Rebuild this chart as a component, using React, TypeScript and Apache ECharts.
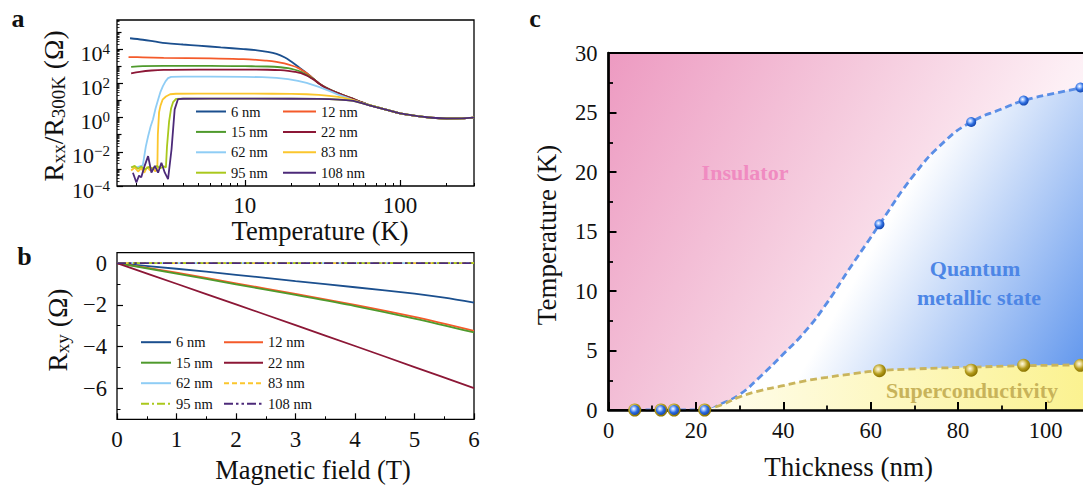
import React, { useEffect, useRef } from "react";
import * as echarts from "echarts";

const FONT = "Liberation Serif, serif";
const INK = "#111111";

// ---------------- panel a : Rxx/R300K vs temperature ----------------
const sampleNames = ["6 nm", "12 nm", "15 nm", "22 nm", "62 nm", "83 nm", "95 nm", "108 nm"];
const sampleColors = ["#1b4f8e", "#f45a2a", "#4f9a2c", "#8c1736", "#8fcdf5", "#fbc62d", "#aac81c", "#4c2a79"];

const tempRange = [1.5, 300];
const rxxRange = [1e-4, 5e5];
const tempMajorTicks = [10, 100];
const tempMinorTicks = [2, 3, 4, 5, 6, 7, 8, 9, 20, 30, 40, 50, 60, 70, 80, 90, 200, 300];
const rxxMajorExp = [-4, -2, 0, 2, 4];
const rxxMidExp = [-3, -1, 1, 3, 5];
const rxxSubMultipliers = [2, 3, 4, 5, 6, 7, 8, 9];
const rxxDecades = [-4, -3, -2, -1, 0, 1, 2, 3, 4, 5];

const rxx6nm = [[1.82, 4.3e4], [2.2, 3.5e4], [2.6, 2.8e4], [3.1, 2.2e4], [4, 1.85e4], [5, 1.6e4], [7, 1.25e4], [9.8, 1.0e4], [12, 8.5e3], [14, 6.9e3], [16, 5.2e3], [18, 3.3e3], [20, 1.8e3], [22, 950], [24, 520], [26, 300], [28, 168], [30, 100], [33, 58], [37, 35], [42, 22], [48, 14], [55, 8.6], [62, 5.7], [70, 4.2], [80, 3.0], [100, 1.75], [130, 1.2], [160, 0.97], [200, 0.88], [250, 0.9], [300, 1.0]];
const rxx12nm = [[1.78, 3.4e3], [2.2, 3.3e3], [3, 3.1e3], [6, 2.85e3], [9.8, 2.6e3], [13.8, 2.1e3], [16, 1.8e3], [18, 1.45e3], [20, 1.1e3], [22, 800], [24, 500], [26, 295], [28, 166], [30, 100], [33, 58], [37, 35], [42, 22], [48, 14], [55, 8.6], [62, 5.7], [70, 4.2], [80, 3.0], [100, 1.75], [130, 1.2], [160, 0.97], [200, 0.88], [250, 0.9], [300, 1.0]];
const rxx15nm = [[1.85, 900], [2.2, 1.0e3], [3, 1.05e3], [6, 1.05e3], [10, 1.0e3], [14, 960], [17, 870], [19, 760], [21, 620], [23, 470], [25, 310], [27, 205], [28, 165], [30, 99], [33, 58], [37, 35], [42, 22], [48, 14], [55, 8.6], [62, 5.7], [70, 4.2], [80, 3.0], [100, 1.75], [130, 1.2], [160, 0.97], [200, 0.88], [250, 0.9], [300, 1.0]];
const rxx22nm = [[1.85, 380], [2.1, 470], [2.5, 560], [3, 610], [5, 630], [10, 630], [14, 620], [17, 590], [19, 540], [21, 470], [23, 390], [25, 285], [27, 195], [28, 160], [30, 98], [33, 57], [37, 35], [42, 22], [48, 14], [55, 8.6], [62, 5.7], [70, 4.2], [80, 3.0], [100, 1.75], [130, 1.2], [160, 0.97], [200, 0.88], [250, 0.9], [300, 1.0]];
const rxx62nm = [[1.85, 1.3e-3], [2.0, 1.2e-3], [2.1, 1.4e-3], [2.2, 1.6e-3], [2.3, 0.02], [2.38, 0.08], [2.47, 0.3], [2.56, 0.8], [2.66, 3.5], [2.76, 11], [2.86, 32], [2.96, 66], [3.08, 130], [3.2, 200], [3.35, 240], [4, 248], [6, 248], [10, 240], [13, 228], [16, 208], [19, 178], [22, 140], [25, 105], [30, 62], [35, 36], [40, 22], [45, 15], [50, 10.5], [56, 7.5], [62, 5.7], [70, 4.2], [80, 3.0], [100, 1.75], [130, 1.2], [160, 0.97], [200, 0.88], [250, 0.9], [300, 1.0]];
const rxx83nm = [[1.85, 8e-4], [1.95, 1.2e-3], [2.05, 7e-4], [2.15, 1.1e-3], [2.25, 6e-4], [2.35, 1.3e-3], [2.45, 8e-4], [2.55, 1.2e-3], [2.65, 7e-4], [2.73, 1.0e-3], [2.75, 0.1], [2.8, 2], [2.86, 5], [2.95, 11], [3.1, 17], [3.3, 23], [3.6, 24.5], [5, 24.8], [10, 24.8], [15, 24.5], [20, 24], [25, 23], [30, 21], [35, 18.5], [40, 16], [45, 13], [50, 10.5], [56, 7.5], [62, 5.6], [70, 4.15], [80, 3.0], [100, 1.75], [130, 1.2], [160, 0.97], [200, 0.88], [250, 0.9], [300, 1.0]];
const rxx95nm = [[1.85, 1.2e-3], [1.95, 1.5e-3], [2.05, 1.0e-3], [2.15, 1.4e-3], [2.25, 9e-4], [2.4, 1.3e-3], [2.55, 1.0e-3], [2.7, 1.5e-3], [2.85, 1.1e-3], [3.0, 1.4e-3], [3.1, 1.2e-3], [3.15, 0.02], [3.25, 0.6], [3.35, 3.5], [3.45, 8], [3.6, 12.3], [4, 12.6], [6, 12.7], [10, 12.7], [20, 12.6], [30, 12.4], [35, 12], [40, 11.3], [45, 10.4], [50, 9.4], [56, 7.3], [62, 5.6], [70, 4.15], [80, 3.0], [100, 1.75], [130, 1.2], [160, 0.97], [200, 0.88], [250, 0.9], [300, 1.0]];
const rxx108nm = [[1.9, 6e-4], [2.0, 1.6e-4], [2.08, 4e-4], [2.15, 3.2e-4], [2.26, 1.5e-3], [2.38, 5.6e-3], [2.5, 6e-4], [2.63, 1.5e-3], [2.76, 6e-4], [2.9, 2.3e-3], [3.05, 6e-4], [3.2, 2.5e-4], [3.37, 0.014], [3.53, 3], [3.71, 12], [4, 12.5], [6, 12.6], [10, 12.6], [20, 12.5], [30, 12.3], [35, 11.9], [40, 11.2], [45, 10.3], [50, 9.3], [56, 7.2], [62, 5.5], [70, 4.1], [80, 3.0], [100, 1.75], [130, 1.2], [160, 0.97], [200, 0.88], [250, 0.9], [300, 1.0]];
const rxxCurves = [rxx6nm, rxx12nm, rxx15nm, rxx22nm, rxx62nm, rxx83nm, rxx95nm, rxx108nm];

// ---------------- panel b : Rxy vs magnetic field ----------------
const fieldRange = [0, 6];
const rxyRange = [-7.5, 0.5];
const rxyLabelTicks = [-6, -4, -2, 0];
const rxyMinorTicks = [-7, -5, -3, -1];
const rxy6nm = [[0, 0], [1, -0.27], [2, -0.56], [3, -0.86], [4, -1.16], [5, -1.47], [5.5, -1.66], [6, -1.9]];
const rxy12nm = [[0, 0], [1, -0.46], [2, -0.97], [3, -1.48], [4, -2.0], [5, -2.58], [6, -3.25]];
const rxy15nm = [[0, 0], [1, -0.5], [2, -1.02], [3, -1.53], [4, -2.06], [5, -2.66], [6, -3.33]];
const rxy22nm = [[0, 0], [1, -0.99], [2, -1.98], [3, -2.98], [4, -3.98], [5, -4.99], [6, -6.0]];
const rxy62nm = [[0, 0], [6, 0]];
const rxy83nm = [[0, 0], [6, 0]];
const rxy95nm = [[0, 0], [6, 0]];
const rxy108nm = [[0, 0], [6, 0]];
const rxyCurves = [rxy6nm, rxy12nm, rxy15nm, rxy22nm, rxy62nm, rxy83nm, rxy95nm, rxy108nm];
const rxyDash: any[] = ["solid", "solid", "solid", "solid", "solid", [5, 3], [8, 3, 2, 3], [9, 3, 2.5, 3, 2.5, 3]];

// ---------------- panel c : phase diagram ----------------
const thicknessRange = [0, 110];
const tempCRange = [0, 30];
const thicknessNm = [6, 12, 15, 22, 62, 83, 95, 108];
const tMetallic = [0, 0, 0, 0, 15.6, 24.2, 26.0, 27.1];
const tSuper = [0, 0, 0, 0, 3.3, 3.35, 3.75, 3.75];
const metallicFit = [[6, 0], [12, 0], [15, 0], [22, 0], [26, 0.55], [30, 1.3], [35, 2.9], [40, 4.7], [45, 6.6], [50, 9.0], [55, 11.8], [60, 14.5], [62, 15.6], [70, 19.8], [77, 22.6], [83, 24.2], [90, 25.3], [95, 26.0], [102, 26.6], [110, 27.2]];
const superFit = [[22, 0], [26, 0.45], [30, 1.1], [35, 1.65], [40, 2.05], [45, 2.45], [50, 2.75], [55, 3.0], [62, 3.3], [70, 3.45], [83, 3.6], [95, 3.72], [110, 3.8]];

const lg = (v: number) => Math.log10(v);
const fmtMinus = (v: number) => (v < 0 ? "\u2212" + Math.abs(v) : String(v));
const richT = (size: number) => ({ t: { fontFamily: FONT, fontSize: size, color: INK } });

function buildOption() {
  const tickLine = { color: "#000", width: 1.2 };
  const rxxSubTicks: number[] = [];
  rxxDecades.forEach((n) =>
    rxxSubMultipliers.forEach((k) => {
      const v = lg(k) + n;
      if (v <= lg(rxxRange[1])) rxxSubTicks.push(v);
    })
  );

  const hiddenAxis = {
    axisLine: { show: false },
    axisTick: { show: false },
    axisLabel: { show: false },
    splitLine: { show: false },
  };

  const xAxis: any[] = [
    { type: "log", gridIndex: 0, min: tempRange[0], max: tempRange[1], ...hiddenAxis },
    {
      type: "value", gridIndex: 0, position: "bottom", min: lg(tempRange[0]), max: lg(tempRange[1]),
      axisLine: { show: false, onZero: false },
      axisTick: { show: true, inside: true, length: 6, customValues: tempMajorTicks.map(lg), lineStyle: tickLine },
      axisLabel: {
        customValues: tempMajorTicks.map(lg), margin: 8,
        formatter: (v: number) => `{t|${Math.round(Math.pow(10, v))}}`, rich: richT(23),
      },
      splitLine: { show: false },
    },
    {
      type: "value", gridIndex: 0, position: "bottom", min: lg(tempRange[0]), max: lg(tempRange[1]),
      axisLine: { show: false, onZero: false },
      axisTick: { show: true, inside: true, length: 3, customValues: tempMinorTicks.map(lg), lineStyle: { color: "#000", width: 1 } },
      axisLabel: { show: false }, splitLine: { show: false },
    },
    {
      type: "value", gridIndex: 1, position: "bottom", min: fieldRange[0], max: fieldRange[1], interval: 1,
      axisLine: { show: false, onZero: false },
      axisTick: { show: true, inside: true, length: 6, lineStyle: tickLine },
      minorTick: { show: true, splitNumber: 2, length: 3, lineStyle: { color: "#000", width: 1 } },
      axisLabel: { margin: 9, formatter: (v: number) => `{t|${v}}`, rich: richT(23) },
      splitLine: { show: false },
    },
    {
      type: "value", gridIndex: 2, position: "bottom", min: thicknessRange[0], max: thicknessRange[1], interval: 20, z: 10,
      axisLine: { show: true, onZero: false, lineStyle: { color: "#000", width: 2.5 } },
      axisTick: { show: true, inside: true, length: 8, lineStyle: { color: "#000", width: 2 } },
      minorTick: { show: true, splitNumber: 2, length: 4.5, lineStyle: { color: "#000", width: 1.8 } },
      axisLabel: { margin: 9, showMaxLabel: false, formatter: (v: number) => `{t|${v}}`, rich: richT(22.5) },
      splitLine: { show: false },
    },
  ];

  const yAxis: any[] = [
    { type: "log", gridIndex: 0, min: rxxRange[0], max: rxxRange[1], ...hiddenAxis },
    {
      type: "value", gridIndex: 0, position: "left", min: -4, max: lg(rxxRange[1]),
      axisLine: { show: false, onZero: false },
      axisTick: { show: true, inside: true, length: 6, customValues: rxxMajorExp, lineStyle: tickLine },
      axisLabel: {
        customValues: rxxMajorExp, margin: 7, padding: [8, 0, 0, 0],
        formatter: (v: number) => `{b|10}{s|${fmtMinus(v)}}`,
        rich: {
          b: { fontFamily: FONT, fontSize: 22, color: INK, lineHeight: 24 },
          s: { fontFamily: FONT, fontSize: 15, color: INK, lineHeight: 14, verticalAlign: "top" },
        },
      },
      splitLine: { show: false },
    },
    {
      type: "value", gridIndex: 0, position: "left", min: -4, max: lg(rxxRange[1]),
      axisLine: { show: false, onZero: false },
      axisTick: { show: true, inside: true, length: 4.5, customValues: rxxMidExp, lineStyle: tickLine },
      axisLabel: { show: false }, splitLine: { show: false },
    },
    {
      type: "value", gridIndex: 0, position: "left", min: -4, max: lg(rxxRange[1]),
      axisLine: { show: false, onZero: false },
      axisTick: { show: true, inside: true, length: 2.5, customValues: rxxSubTicks, lineStyle: { color: "#000", width: 0.8 } },
      axisLabel: { show: false }, splitLine: { show: false },
    },
    {
      type: "value", gridIndex: 1, position: "left", min: rxyRange[0], max: rxyRange[1],
      axisLine: { show: false, onZero: false },
      axisTick: { show: true, inside: true, length: 6, customValues: rxyLabelTicks, lineStyle: tickLine },
      axisLabel: { customValues: rxyLabelTicks, margin: 10, formatter: (v: number) => `{t|${fmtMinus(v)}}`, rich: richT(22.5) },
      splitLine: { show: false },
    },
    {
      type: "value", gridIndex: 1, position: "left", min: rxyRange[0], max: rxyRange[1],
      axisLine: { show: false, onZero: false },
      axisTick: { show: true, inside: true, length: 3.5, customValues: rxyMinorTicks, lineStyle: { color: "#000", width: 1 } },
      axisLabel: { show: false }, splitLine: { show: false },
    },
    {
      type: "value", gridIndex: 2, position: "left", min: tempCRange[0], max: tempCRange[1], interval: 5, z: 10,
      axisLine: { show: true, onZero: false, lineStyle: { color: "#000", width: 2.5 } },
      axisTick: { show: true, inside: true, length: 8, lineStyle: { color: "#000", width: 2 } },
      minorTick: { show: true, splitNumber: 2, length: 4.5, lineStyle: { color: "#000", width: 1.8 } },
      axisLabel: { margin: 11, formatter: (v: number) => `{t|${v}}`, rich: richT(22.5) },
      splitLine: { show: false },
    },
  ];

  const pinkGrad = {
    type: "linear", x: 608, y: 52, x2: 1058, y2: 302, global: true,
    colorStops: [
      { offset: 0, color: "#ed9ac1" },
      { offset: 0.45, color: "#f5cadd" },
      { offset: 0.8, color: "#fdeff5" },
      { offset: 1, color: "#ffffff" },
    ],
  };
  const blueGrad = {
    type: "linear", x: 860, y: 270, x2: 1085, y2: 400, global: true,
    colorStops: [
      { offset: 0, color: "#ffffff" },
      { offset: 1, color: "#5790ec" },
    ],
  };
  const yellowGrad = {
    type: "linear", x: 700, y: 0, x2: 1085, y2: 0, global: true,
    colorStops: [
      { offset: 0, color: "#fffdf0" },
      { offset: 1, color: "#fbf290" },
    ],
  };
  const blueBall = {
    type: "radial", x: 0.4, y: 0.38, r: 0.62,
    colorStops: [
      { offset: 0, color: "#ffffff" },
      { offset: 0.28, color: "#9cc0ff" },
      { offset: 0.6, color: "#2f6fe0" },
      { offset: 1, color: "#1546ae" },
    ],
  };
  const goldBall = {
    type: "radial", x: 0.4, y: 0.38, r: 0.62,
    colorStops: [
      { offset: 0, color: "#fffbe6" },
      { offset: 0.3, color: "#e4d488" },
      { offset: 0.62, color: "#b39b1c" },
      { offset: 1, color: "#8a7300" },
    ],
  };

  const series: any[] = [];
  sampleNames.forEach((name, i) => {
    series.push({
      type: "line", name, xAxisIndex: 0, yAxisIndex: 0, data: rxxCurves[i],
      symbol: "none", showSymbol: false, smooth: i < 4 ? 0.35 : false,
      lineStyle: { color: sampleColors[i], width: 1.8 }, itemStyle: { color: sampleColors[i] }, z: 2 + i,
    });
  });
  sampleNames.forEach((name, i) => {
    series.push({
      type: "line", name: name + " (b)", xAxisIndex: 3, yAxisIndex: 4, data: rxyCurves[i],
      symbol: "none", showSymbol: false, smooth: 0.3,
      lineStyle: { color: sampleColors[i], width: 1.8, type: rxyDash[i] }, itemStyle: { color: sampleColors[i] }, z: 2 + i,
    });
  });
  series.push({
    type: "line", name: "metallic fit", xAxisIndex: 4, yAxisIndex: 6, data: metallicFit,
    symbol: "none", smooth: 0.5,
    lineStyle: { color: "#5a8ee6", width: 2.8, type: [7, 4] },
    areaStyle: { color: blueGrad, opacity: 1 }, z: 2,
  });
  series.push({
    type: "line", name: "sc fit", xAxisIndex: 4, yAxisIndex: 6, data: superFit,
    symbol: "none", smooth: 0.5,
    lineStyle: { color: "#c9b45c", width: 2.8, type: [7, 4] },
    areaStyle: { color: yellowGrad, opacity: 1 }, z: 3,
  });
  series.push({
    type: "scatter", name: "Tsc", xAxisIndex: 4, yAxisIndex: 6,
    data: thicknessNm.map((t, i) => [t, tSuper[i]]), symbol: "circle", symbolSize: 13,
    itemStyle: { color: goldBall, opacity: 1 }, z: 12,
  });
  series.push({
    type: "scatter", name: "Tmetal", xAxisIndex: 4, yAxisIndex: 6,
    data: thicknessNm.map((t, i) => [t, tMetallic[i]]), symbol: "circle", symbolSize: 10,
    itemStyle: { color: blueBall, opacity: 1 }, z: 13,
  });

  const legendBase = {
    orient: "vertical", padding: 0, itemHeight: 14, selectedMode: false,
    itemStyle: { opacity: 0, borderWidth: 0 },
    textStyle: { fontFamily: FONT, fontSize: 14.5, color: INK },
  };
  const stripB = (n: string) => n.replace(" (b)", "");
  const legend = [
    { ...legendBase, left: 195, top: 104, itemWidth: 30, itemGap: 5.4, data: ["6 nm", "15 nm", "62 nm", "95 nm"] },
    { ...legendBase, left: 282, top: 104, itemWidth: 33, itemGap: 5.4, data: ["12 nm", "22 nm", "83 nm", "108 nm"] },
    { ...legendBase, left: 140, top: 334.7, itemWidth: 30, itemGap: 5.5, formatter: stripB, data: ["6 nm (b)", "15 nm (b)", "62 nm (b)", "95 nm (b)"] },
    { ...legendBase, left: 223, top: 334.7, itemWidth: 39, itemGap: 5.5, formatter: stripB, data: ["12 nm (b)", "22 nm (b)", "83 nm (b)", "108 nm (b)"] },
  ];

  const txt = (text: string, x: number, y: number, size: number, bold = false, fill = INK, rotation = 0) => ({
    type: "text", x, y, rotation, z: 100,
    style: {
      text: `{t|${text}}`, fill, textAlign: "center", textVerticalAlign: "middle",
      rich: { t: { fontFamily: FONT, fontSize: size, fontWeight: bold ? "bold" : "normal", fill } },
    },
  });
  const mainR = { fontFamily: FONT, fontSize: 27.5, fill: INK, lineHeight: 30 };
  const subR = { fontFamily: FONT, fontSize: 19, fill: INK, lineHeight: 14, verticalAlign: "bottom" };
  const richTitle = (text: string, x: number, y: number) => ({
    type: "text", x, y, rotation: Math.PI / 2, z: 100,
    style: { text, fill: INK, textAlign: "center", textVerticalAlign: "middle", rich: { m: mainR, s: subR } },
  });

  const graphic = [
    txt("a", 18, 18, 26, true),
    txt("b", 24.5, 256, 26, true),
    txt("c", 535, 18.5, 26, true),
    txt("Temperature (K)", 320, 231, 26.5),
    richTitle("{m|R}{s|xx}{m|/R}{s|300K}{m| (Ω)}", 53, 106),
    txt("Magnetic field (T)", 313, 470, 26.5),
    richTitle("{m|R}{s|xy}{m| (Ω)}", 57, 330),
    txt("Thickness (nm)", 848.6, 466.7, 27),
    txt("Temperature (K)", 547, 235, 27, false, INK, Math.PI / 2),
    txt("Insulator", 745, 172, 22, true, "#f08bc1"),
    txt("Quantum", 975, 268.3, 22, true, "#4d86e6"),
    txt("metallic state", 979, 297.3, 22, true, "#4d86e6"),
    txt("Superconductivity", 972, 390, 22, true, "#c8b35a"),
  ];

  return {
    animation: false,
    backgroundColor: "#ffffff",
    textStyle: { fontFamily: FONT },
    grid: [
      { left: 117, top: 20, width: 357, height: 166, show: true, borderColor: "#000", borderWidth: 1.3, backgroundColor: "transparent", outerBoundsMode: "none", containLabel: false },
      { left: 117, top: 252.7, width: 357, height: 166.6, show: true, borderColor: "#000", borderWidth: 1.3, backgroundColor: "transparent", outerBoundsMode: "none", containLabel: false },
      { left: 608.5, top: 53, width: 480.7, height: 357, show: true, borderColor: "#000", borderWidth: 2, backgroundColor: pinkGrad, outerBoundsMode: "none", containLabel: false },
    ],
    xAxis,
    yAxis,
    legend,
    series,
    graphic,
  };
}

export default function App() {
  const ref = useRef<HTMLDivElement>(null);
  useEffect(() => {
    if (!ref.current) return;
    const chart = echarts.init(ref.current, undefined, { renderer: "svg" });
    chart.setOption(buildOption() as any);
    return () => chart.dispose();
  }, []);
  return (
    <div
      ref={ref}
      style={{ position: "absolute", left: 0, top: 0, width: 1083, height: 489, background: "#fff" }}
    />
  );
}
